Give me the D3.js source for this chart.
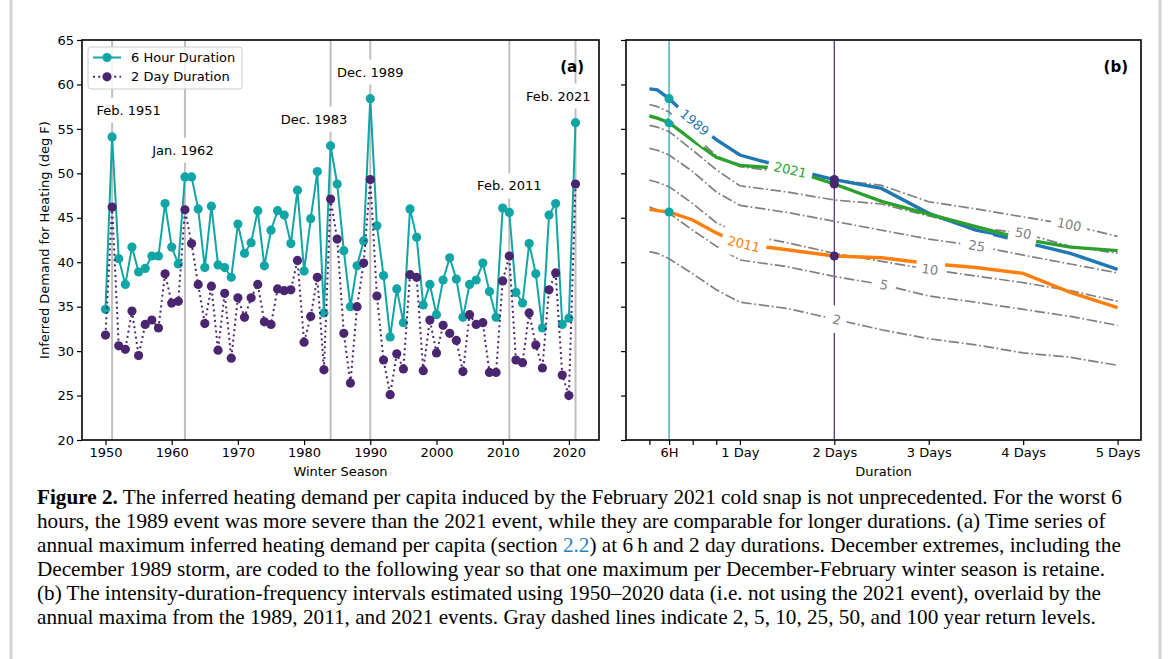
<!DOCTYPE html>
<html>
<head>
<meta charset="utf-8">
<script src="https://cdn.jsdelivr.net/npm/d3@7"></script>
<style>
  body { margin: 0; background: #fff; }
  svg text { font-family: "DejaVu Sans", sans-serif; fill: #000; }
  svg .caption text { font-family: "Liberation Serif", serif; }
</style>
</head>
<body>
<svg id="fig" width="1173" height="659"></svg>
<script>
// ---- panel (a): annual maxima ----
var years = [1950, 1951, 1952, 1953, 1954, 1955, 1956, 1957, 1958, 1959,
             1960, 1961, 1962, 1963, 1964, 1965, 1966, 1967, 1968, 1969,
             1970, 1971, 1972, 1973, 1974, 1975, 1976, 1977, 1978, 1979,
             1980, 1981, 1982, 1983, 1984, 1985, 1986, 1987, 1988, 1989,
             1990, 1991, 1992, 1993, 1994, 1995, 1996, 1997, 1998, 1999,
             2000, 2001, 2002, 2003, 2004, 2005, 2006, 2007, 2008, 2009,
             2010, 2011, 2012, 2013, 2014, 2015, 2016, 2017, 2018, 2019,
             2020, 2021];
var sixHour = [34.7, 54.1, 40.4, 37.5, 41.7, 38.9, 39.3, 40.7, 40.7, 46.6,
               41.7, 39.8, 49.6, 49.6, 46.0, 39.4, 46.3, 39.7, 39.4, 38.3,
               44.3, 41.0, 42.2, 45.8, 39.6, 43.6, 45.8, 45.3, 42.1, 48.1,
               39.0, 44.9, 50.2, 34.3, 53.1, 48.8, 41.3, 35.0, 39.6, 42.4,
               58.4, 44.1, 38.5, 31.6, 37.0, 33.2, 46.0, 42.8, 35.2, 37.5,
               34.1, 38.0, 40.5, 38.1, 33.8, 37.5, 38.0, 39.9, 36.7, 33.8,
               46.1, 45.6, 36.6, 35.4, 42.1, 38.7, 32.6, 45.3, 46.6, 33.0,
               33.7, 55.7];
var twoDay = [31.8, 46.2, 30.6, 30.2, 34.5, 29.5, 33.0, 33.5, 32.6, 38.7,
              35.4, 35.6, 45.9, 42.1, 37.5, 33.1, 37.3, 30.1, 36.5, 29.2,
              36.0, 33.8, 36.0, 37.5, 33.3, 33.0, 37.0, 36.8, 36.9, 40.2,
              31.0, 33.9, 38.3, 27.9, 47.1, 42.6, 32.0, 26.4, 35.0, 39.9,
              49.3, 36.2, 29.0, 25.1, 29.7, 28.0, 38.6, 38.3, 27.8, 33.5,
              29.8, 32.9, 32.0, 31.2, 27.7, 34.1, 33.0, 33.2, 27.6, 27.6,
              37.9, 40.7, 29.0, 28.7, 34.3, 30.7, 28.1, 36.9, 38.8, 27.3,
              25.0, 48.8];
var eventYears = [1951, 1962, 1984, 1990, 2011, 2021];
var eventNames = ['Feb. 1951', 'Jan. 1962', 'Dec. 1983', 'Dec. 1989', 'Feb. 2011', 'Feb. 2021'];
var yearTicks = [1950, 1960, 1970, 1980, 1990, 2000, 2010, 2020];
var demandTicks = [20, 25, 30, 35, 40, 45, 50, 55, 60, 65];

// ---- panel (b): intensity-duration-frequency ----
var durations = [1, 3, 6, 12, 18, 24, 36, 48, 60, 72, 84, 96, 108, 120];   // hours
var durationTicks = [1, 6, 12, 18, 24, 48, 72, 96, 120];
var durationTickLabels = ['', '6H', '', '', '1 Day', '2 Days', '3 Days', '4 Days', '5 Days'];
var returnPeriods = ['2', '5', '10', '25', '50', '100'];
var rl2   = [41.2, 41.0, 40.4, 38.7, 36.9, 35.5, 34.8, 33.6, 32.4, 31.4, 30.7, 29.8, 29.3, 28.4];
var rl5   = [46.2, 45.9, 45.5, 43.6, 41.8, 40.25, 39.5, 38.4, 37.5, 36.2, 35.5, 34.7, 33.9, 32.9];
var rl10  = [49.25, 49.0, 48.5, 46.6, 44.45, 43.2, 42.2, 41.0, 40.1, 39.2, 38.45, 37.7, 36.8, 35.6];
var rl25  = [52.8, 52.6, 52.06, 50.2, 47.9, 46.4, 45.6, 44.6, 43.6, 42.6, 41.85, 40.8, 39.8, 38.8];
var rl50  = [55.4, 55.2, 54.7, 52.6, 50.4, 48.6, 47.9, 47.0, 46.55, 45.2, 43.9, 43.25, 41.8, 41.0];
var rl100 = [57.75, 57.5, 56.9, 54.4, 52.0, 50.75, 50.1, 49.3, 48.65, 46.8, 46.0, 45.1, 44.2, 42.9];
var returnLabelAt = [48.6, 60.6, 72.3, 84.2, 96, 107.7];

var eventSeasons = ['1989', '2011', '2021'];
var ev1989 = [59.5, 59.4, 58.4, 55.9, 53.8, 52.06, 50.6, 49.3, 48.3, 45.5, 43.6, 42.3, 41.0, 39.2];
var ev2011 = [45.95, 45.8, 45.65, 44.75, 43.3, 42.1, 41.4, 40.7, 40.5, 39.85, 39.4, 38.75, 36.6, 34.9];
var ev2021 = [56.45, 56.2, 55.7, 53.7, 51.8, 50.9, 50.5, 48.8, 46.85, 45.4, 44.0, 42.6, 41.7, 41.3];
var eventLabelAt = [12.5, 25, 36.8];

var captionLines = [
  [['Figure 2.', 'b'], [' The inferred heating demand per capita induced by the February 2021 cold snap is not unprecedented. For the worst 6']],
  [['hours, the 1989 event was more severe than the 2021 event, while they are comparable for longer durations. (a) Time series of']],
  [['annual maximum inferred heating demand per capita (section '], ['2.2', 'link'], [') at 6\u2009h and 2 day durations. December extremes, including the']],
  [['December 1989 storm, are coded to the following year so that one maximum per December-February winter season is retaine.']],
  [['(b) The intensity-duration-frequency intervals estimated using 1950\u20132020 data (i.e. not using the 2021 event), overlaid by the']],
  [['annual maxima from the 1989, 2011, and 2021 events. Gray dashed lines indicate 2, 5, 10, 25, 50, and 100 year return levels.']]
];

var teal = '#12a5a5', purple = '#4b2670', grey = '#808080';
var eventColors = ['#1f77b4', '#ff7f0e', '#2ca02c'];

var svg = d3.select('#fig');
svg.append('rect').attr('width', 1173).attr('height', 659).attr('fill', '#fff');

// page frame
svg.append('line').attr('x1', 11).attr('x2', 11).attr('y1', 0).attr('y2', 659)
  .attr('stroke', '#d4d4d4').attr('stroke-width', 3);
svg.append('line').attr('x1', 1160).attr('x2', 1160).attr('y1', 0).attr('y2', 659)
  .attr('stroke', '#d4d4d4').attr('stroke-width', 3);

var y = d3.scaleLinear().domain([20, 65]).range([440, 40]);
var xA = d3.scaleLinear().domain([1946.45, 2024.55]).range([82, 599]);
var xB = d3.scaleLinear().domain([-4.95, 125.95]).range([626, 1141]);

function styleAxis(g) {
  g.select('.domain').remove();
  g.selectAll('.tick line').attr('stroke', '#000').attr('stroke-width', 1.2);
  g.selectAll('.tick text').style('font-size', '13px').attr('fill', '#000');
}

// ================= panel (a) =================
var ga = svg.append('g');

ga.selectAll('line.event').data(eventYears).enter().append('line')
  .attr('class', 'event')
  .attr('x1', (d) => xA(d)).attr('x2', (d) => xA(d))
  .attr('y1', y(65)).attr('y2', y(20))
  .attr('stroke', '#bfbfbf').attr('stroke-width', 2);

var lineA = (vals) => d3.line().x((d, i) => xA(years[i])).y((d) => y(d))(vals);

ga.append('path').attr('d', lineA(sixHour))
  .attr('fill', 'none').attr('stroke', teal).attr('stroke-width', 2);
ga.selectAll('circle.six').data(sixHour).enter().append('circle')
  .attr('class', 'six').attr('cx', (d, i) => xA(years[i])).attr('cy', (d) => y(d))
  .attr('r', 4.6).attr('fill', teal);

ga.append('path').attr('d', lineA(twoDay))
  .attr('fill', 'none').attr('stroke', purple).attr('stroke-width', 2)
  .attr('stroke-dasharray', '2,3.3');
ga.selectAll('circle.two').data(twoDay).enter().append('circle')
  .attr('class', 'two').attr('cx', (d, i) => xA(years[i])).attr('cy', (d) => y(d))
  .attr('r', 4.6).attr('fill', purple);

// event annotations, 3 units above the 6 hour maximum;
// the ones near the edges (and Dec. 1983) are nudged sideways, in years
var labelNudge = [2.5, -0.3, -2.5, 0, 0, -2.6];
eventYears.forEach(function(yr, k) {
  var v = sixHour[years.indexOf(yr)] + 3;
  var lg = ga.append('g').attr('transform', 'translate(' + xA(yr + labelNudge[k]) + ',' + y(v) + ')');
  var r = lg.append('rect').attr('fill', '#fff');
  var t = lg.append('text').attr('text-anchor', 'middle').attr('dy', '0.35em')
    .style('font-size', '13px').text(eventNames[k]);
  var b = t.node().getBBox();
  r.attr('x', b.x - 4).attr('y', b.y - 5).attr('width', b.width + 8).attr('height', b.height + 10);
});

ga.append('g').attr('transform', 'translate(0,440)')
  .call(d3.axisBottom(xA).tickValues(yearTicks).tickSize(5).tickPadding(3).tickFormat(d3.format('d')))
  .call(styleAxis);
ga.append('g').attr('transform', 'translate(82,0)')
  .call(d3.axisLeft(y).tickValues(demandTicks).tickSize(5).tickPadding(3))
  .call(styleAxis);

ga.append('rect').attr('x', 82).attr('y', 40).attr('width', 517).attr('height', 400)
  .attr('fill', 'none').attr('stroke', '#000').attr('stroke-width', 1.6);

ga.append('text').attr('x', 584).attr('y', 67).attr('dy', '0.35em').attr('text-anchor', 'end')
  .style('font-size', '15px').style('font-weight', 'bold').text('(a)');
ga.append('text').attr('x', (82 + 599) / 2).attr('y', 471).attr('dy', '0.35em').attr('text-anchor', 'middle')
  .style('font-size', '13px').text('Winter Season');
ga.append('text').attr('transform', 'translate(44,240) rotate(-90)').attr('dy', '0.35em')
  .attr('text-anchor', 'middle').style('font-size', '13px')
  .text('Inferred Demand for Heating (deg F)');

// legend
var leg = ga.append('g');
leg.append('rect').attr('x', 88).attr('y', 47).attr('width', 154).attr('height', 42).attr('rx', 3)
  .attr('fill', '#fff').attr('fill-opacity', 0.8).attr('stroke', '#ccc');
[['6 Hour Duration', teal, null], ['2 Day Duration', purple, '2,3.3']].forEach(function(e, i) {
  var ly = 57.5 + i * 19.3;
  leg.append('line').attr('x1', 93).attr('x2', 121).attr('y1', ly).attr('y2', ly)
    .attr('stroke', e[1]).attr('stroke-width', 2).attr('stroke-dasharray', e[2]);
  leg.append('circle').attr('cx', 107).attr('cy', ly).attr('r', 4.6).attr('fill', e[1]);
  leg.append('text').attr('x', 131).attr('y', ly).attr('dy', '0.35em').style('font-size', '13px').text(e[0]);
});

// ================= panel (b) =================
var gb = svg.append('g');

function interp(xs, ys, x) {
  var i = Math.max(1, Math.min(xs.length - 1, d3.bisectRight(xs, x)));
  var t = (x - xs[i - 1]) / (xs[i] - xs[i - 1]);
  return ys[i - 1] + t * (ys[i] - ys[i - 1]);
}
var lineB = d3.line().x((d, i) => xB(durations[i])).y((d) => y(d));

gb.append('line').attr('x1', xB(6)).attr('x2', xB(6)).attr('y1', y(65)).attr('y2', y(20))
  .attr('stroke', teal).attr('stroke-width', 1.2);
gb.append('line').attr('x1', xB(48)).attr('x2', xB(48)).attr('y1', y(65)).attr('y2', y(20))
  .attr('stroke', purple).attr('stroke-width', 1.2);

var levels = [rl2, rl5, rl10, rl25, rl50, rl100];
gb.selectAll('path.rl').data(levels).enter().append('path')
  .attr('class', 'rl').attr('d', lineB)
  .attr('fill', 'none').attr('stroke', grey).attr('stroke-width', 1.7)
  .attr('stroke-dasharray', '10.5,2.7,1.7,2.7');

var events = [ev1989, ev2011, ev2021];
gb.selectAll('path.ev').data(events).enter().append('path')
  .attr('class', 'ev').attr('d', lineB)
  .attr('fill', 'none').attr('stroke', (d, i) => eventColors[i]).attr('stroke-width', 3.4);

gb.selectAll('circle.m6').data(events).enter().append('circle')
  .attr('class', 'm6').attr('cx', xB(6)).attr('cy', (d) => y(interp(durations, d, 6)))
  .attr('r', 4.6).attr('fill', teal);
gb.selectAll('circle.m48').data(events).enter().append('circle')
  .attr('class', 'm48').attr('cx', xB(48)).attr('cy', (d) => y(interp(durations, d, 48)))
  .attr('r', 4.6).attr('fill', purple);

// inline labels with a white box, like contour labels
function inlineLabel(txt, h, vals, color) {
  var px = xB(h), py = y(interp(durations, vals, h));
  var x1 = xB(h - 3), y1 = y(interp(durations, vals, h - 3));
  var x2 = xB(h + 3), y2 = y(interp(durations, vals, h + 3));
  var a = Math.atan2(y2 - y1, x2 - x1) * 180 / Math.PI;
  var lg = gb.append('g').attr('transform', 'translate(' + px + ',' + py + ') rotate(' + a + ')');
  var r = lg.append('rect').attr('fill', '#fff');
  var t = lg.append('text').attr('text-anchor', 'middle').attr('dy', '0.35em')
    .style('font-size', '13px').style('fill', color).text(txt);
  var b = t.node().getBBox();
  r.attr('x', b.x - 6).attr('y', b.y - 6).attr('width', b.width + 12).attr('height', b.height + 12);
}
returnPeriods.forEach((p, i) => inlineLabel(p, returnLabelAt[i], levels[i], grey));
eventSeasons.forEach((s, i) => inlineLabel(s, eventLabelAt[i], events[i], eventColors[i]));

gb.append('g').attr('transform', 'translate(0,440)')
  .call(d3.axisBottom(xB).tickValues(durationTicks).tickSize(5).tickPadding(3)
    .tickFormat((d, i) => durationTickLabels[i]))
  .call(styleAxis);
gb.append('g').attr('transform', 'translate(626,0)')
  .call(d3.axisLeft(y).tickValues(demandTicks).tickSize(5).tickFormat(''))
  .call(styleAxis);

gb.append('rect').attr('x', 626).attr('y', 40).attr('width', 515).attr('height', 400)
  .attr('fill', 'none').attr('stroke', '#000').attr('stroke-width', 1.6);

gb.append('text').attr('x', 1128).attr('y', 67).attr('dy', '0.35em').attr('text-anchor', 'end')
  .style('font-size', '15px').style('font-weight', 'bold').text('(b)');
gb.append('text').attr('x', (626 + 1141) / 2).attr('y', 471).attr('dy', '0.35em').attr('text-anchor', 'middle')
  .style('font-size', '13px').text('Duration');

// ================= caption =================
var cap = svg.append('g').attr('class', 'caption');
captionLines.forEach(function(segs, i) {
  var t = cap.append('text').attr('x', 37).attr('y', 504 + i * 23.9).style('font-size', '21.2px');
  segs.forEach(function(s) {
    var ts = t.append('tspan').text(s[0]);
    if (s[1] === 'b') ts.style('font-weight', 'bold');
    if (s[1] === 'link') ts.style('fill', '#2a7fc0');
  });
});
</script>
</body>
</html>
